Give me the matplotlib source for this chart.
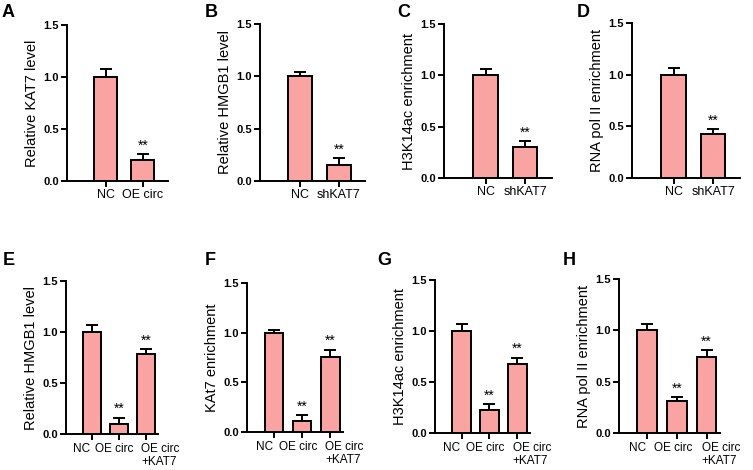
import matplotlib
matplotlib.use("Agg")
import matplotlib.pyplot as plt
from matplotlib.transforms import offset_copy

plt.rcParams["font.family"] = ["Liberation Sans", "DejaVu Sans"]

# panel data: letter, y label, groups, means, upper error, significance
letters = ["A", "B", "C", "D", "E", "F", "G", "H"]
ylabels = [
    "Relative KAT7 level", "Relative HMGB1 level", "H3K14ac enrichment", "RNA pol II enrichment",
    "Relative HMGB1 level", "KAt7 enrichment", "H3K14ac enrichment", "RNA pol II enrichment",
]
groups_a = ["NC", "OE circ"]
groups_sh = ["NC", "shKAT7"]
groups_rescue = ["NC", "OE circ", "OE circ\n+KAT7"]
groups = [groups_a, groups_sh, groups_sh, groups_sh,
          groups_rescue, groups_rescue, groups_rescue, groups_rescue]
means = [
    [1.0, 0.20], [1.0, 0.15], [1.0, 0.30], [1.0, 0.43],
    [1.0, 0.10, 0.78], [1.0, 0.11, 0.76], [1.0, 0.23, 0.68], [1.0, 0.31, 0.74],
]
errors = [
    [0.08, 0.06], [0.04, 0.07], [0.06, 0.06], [0.06, 0.04],
    [0.07, 0.06, 0.05], [0.03, 0.06, 0.07], [0.07, 0.05, 0.06], [0.06, 0.04, 0.07],
]
stars = [
    ["", "**"], ["", "**"], ["", "**"], ["", "**"],
    ["", "**", "**"], ["", "**", "**"], ["", "**", "**"], ["", "**", "**"],
]

W, H = 753, 470
# axes boxes in pixels: left, right, top, bottom
boxes = [
    (67, 168, 25, 181), (260, 365, 24, 181), (444, 552, 24, 178), (632, 740, 23, 178),
    (66, 158, 281, 434), (247, 343, 283, 432), (435, 530, 280, 433), (619, 720, 279, 433),
]
letter_pos = [(2, 4), (205, 4), (397, 4), (577, 4), (3, 252), (205, 252), (377, 252), (563, 252)]
# horizontal nudges (points) of the rescue-panel labels, so they don't collide
rescue_dx = [-7, -3, -3.5]

bar_color = "#F9A3A3"

fig = plt.figure(figsize=(W / 100, H / 100), dpi=100)

for i in range(8):
    l, r, t, b = boxes[i]
    ax = fig.add_axes([l / W, 1 - b / H, (r - l) / W, (b - t) / H])
    n = len(groups[i])
    x = list(range(n))
    lower = [0] * n
    ax.bar(x, means[i], width=0.62 if n == 2 else 0.66, color=bar_color,
           edgecolor="black", linewidth=1.4, zorder=2)
    ax.errorbar(x, means[i], yerr=[lower, errors[i]], fmt="none", ecolor="black",
                elinewidth=1.4, capsize=4, capthick=1.4, zorder=1)
    for xi, m, e, s in zip(x, means[i], errors[i], stars[i]):
        if s:
            ax.text(xi, m + e + 0.015, s, ha="center", va="bottom", fontsize=10)
    ax.set_ylim(0, 1.5)
    ax.set_yticks([0, 0.5, 1.0, 1.5])
    ax.set_yticklabels(["0.0", "0.5", "1.0", "1.5"], fontweight="bold", fontsize=8)
    ax.set_xticks(x)
    if n == 2:
        ax.set_xlim(-1.05, 1.68)
        ax.set_xticklabels(groups[i], fontsize=9)
    else:
        ax.set_xlim(-0.95, 2.45)
        ax.set_xticklabels([])
        # rescue panels: the last label starts at its tick
        for xi, g, dx in zip(x, groups[i], rescue_dx):
            ha = "left" if "\n" in g else "center"
            tr = offset_copy(ax.get_xaxis_transform(), fig, x=dx, y=-6.5, units="points")
            ax.text(xi, 0, g, transform=tr, ha=ha, va="top", fontsize=8.5,
                    multialignment="left", linespacing=1.1)
    ax.set_ylabel(ylabels[i], fontsize=10.5, labelpad=3)
    for side in ("top", "right"):
        ax.spines[side].set_visible(False)
    for side in ("left", "bottom"):
        ax.spines[side].set_linewidth(1.4)
    ax.tick_params(width=1.4, length=4, pad=2)
    lx, ly = letter_pos[i]
    fig.text(lx / W, 1 - ly / H, letters[i], fontsize=13, fontweight="bold", va="top", ha="left")

fig.savefig("out.png", dpi=100)
